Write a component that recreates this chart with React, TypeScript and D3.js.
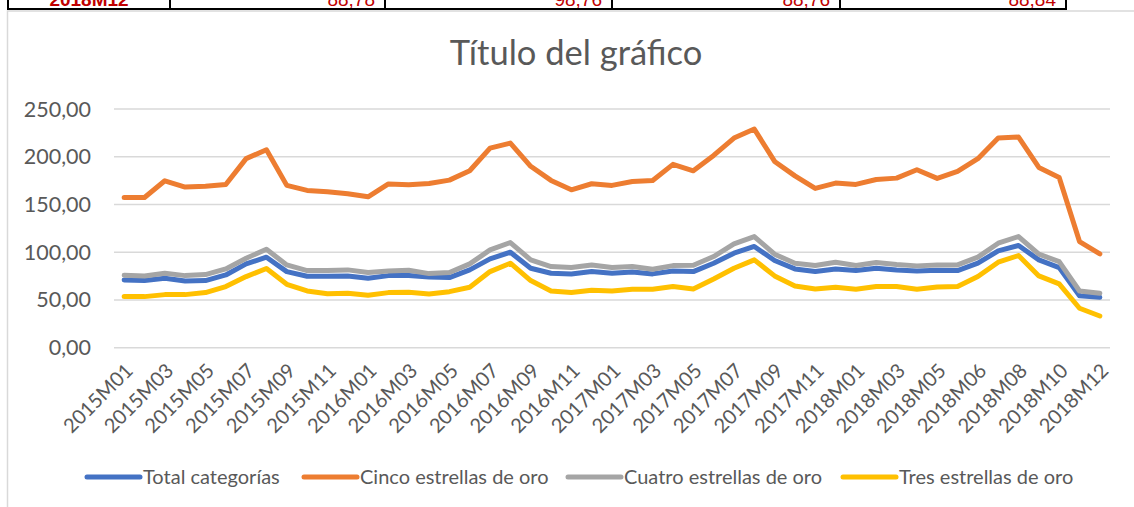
import React, { useEffect, useRef } from 'react';
import * as d3 from 'd3';

// Categories (one month appears twice in the source sheet, hence 49 entries)
const categories = [
  '2015M01', '2015M02', '2015M03', '2015M04', '2015M05', '2015M06', '2015M07', '2015M08', '2015M09', '2015M10', '2015M11', '2015M12',
  '2016M01', '2016M02', '2016M03', '2016M04', '2016M05', '2016M06', '2016M07', '2016M08', '2016M09', '2016M10', '2016M11', '2016M12',
  '2017M01', '2017M02', '2017M03', '2017M04', '2017M05', '2017M06', '2017M07', '2017M08', '2017M09', '2017M10', '2017M11', '2017M12',
  '2018M01', '2018M02', '2018M03', '2018M04', '2018M05', '2018M05', '2018M06', '2018M07', '2018M08', '2018M09', '2018M10', '2018M11', '2018M12',
];

const totalCategorias = [
  71, 70.3, 72.7, 69.9, 70.3, 76.2, 87.8, 94.8, 79.7, 74.8, 74.8, 75.2, 72.7, 75.5,
  75.5, 74.1, 73.4, 81.5, 93, 100, 83.2, 78, 77.3, 79.7, 78, 79.4, 77.3, 80.4, 79.7, 88.5, 99, 106,
  91.3, 82.5, 79.7, 82.5, 80.8, 83.2, 81.5, 80.4, 81.1, 80.8, 88.5, 101.4, 107, 92, 83.9, 54.5, 52.8,
];
const cincoEstrellas = [
  157.3, 157.3, 174.8, 168.2, 169.2, 171, 198, 207.3, 170, 164.7, 163.3, 161.2, 158, 171.5,
  170.6, 172, 175.5, 185.3, 209, 214.3, 190, 175.2, 165.4, 171.7, 170, 174.1, 175.2, 192, 185.3, 201.4, 219.6, 229,
  195.1, 180, 166.8, 172.4, 171, 176.2, 177.6, 186.4, 177.3, 184.6, 198, 219.6, 220.6, 188.8, 178.3, 111.2, 98.3,
];
const cuatroEstrellas = [
  75.9, 75.2, 78, 75.5, 76.6, 82.5, 93.7, 103.1, 86.7, 80.8, 80.8, 81.5, 78.7, 80.4,
  81.1, 77.6, 78.7, 87.8, 102.4, 110.1, 92, 85, 83.9, 86.7, 83.9, 85, 82.2, 86, 86.4, 95.5, 108.7, 116.4,
  97.9, 88.5, 86, 89.5, 86, 89.2, 87.1, 85.7, 86.7, 86.7, 94.8, 109.4, 116.4, 97.9, 90.2, 59.4, 57,
];
const tresEstrellas = [
  53.5, 53.5, 55.6, 55.6, 57.7, 64, 74.5, 82.9, 66.4, 59.4, 56.6, 57, 54.9, 57.7,
  58, 56.3, 58.7, 63.3, 79.7, 88.5, 70.3, 59.4, 57.7, 60.1, 59.4, 61.2, 61.2, 64, 61.5, 72, 83.2, 92,
  75.2, 64.7, 61.5, 63.3, 61.2, 64, 64, 61.2, 63.6, 64, 74.5, 89.5, 96.5, 75.2, 66.8, 41.3, 33.2,
];

const seriesNames = ['Total categorías', 'Cinco estrellas de oro', 'Cuatro estrellas de oro', 'Tres estrellas de oro'];
const seriesColors = ['#4472C4', '#ED7D31', '#A5A5A5', '#FFC000'];
const yTicks = [0, 50, 100, 150, 200, 250];

// clipped spreadsheet row above the chart
const tableRow = ['2018M12', '88,78', '98,76', '88,76', '88,84'];

export default function App() {
  const ref = useRef<SVGSVGElement>(null);

  useEffect(() => {
    const svg = d3.select(ref.current);
    svg.selectAll('*').remove();

    const W = 1134;
    const H = 507;
    const font = 'Lato, "Open Sans", sans-serif';

    svg.append('rect').attr('width', W).attr('height', H).attr('fill', '#fff');

    // spreadsheet row (only its bottom edge shows)
    const cellEdges = [8, 170, 385, 612, 840, 1066];
    const clip = svg.append('clipPath').attr('id', 'rowclip');
    clip.append('rect').attr('x', 0).attr('y', 0).attr('width', W).attr('height', 8.5);
    const row = svg.append('g').attr('clip-path', 'url(#rowclip)');
    tableRow.forEach((t, i) => {
      const txt = row.append('text')
        .attr('y', 6)
        .attr('fill', '#C00000')
        .style('font-family', 'Liberation Sans, Arial, sans-serif')
        .style('font-size', '19px')
        .text(t);
      if (i === 0) {
        txt.attr('x', (cellEdges[0] + cellEdges[1]) / 2).attr('text-anchor', 'middle').style('font-weight', 'bold');
      } else {
        txt.attr('x', cellEdges[i + 1] - 10).attr('text-anchor', 'end');
      }
    });
    svg.append('line').attr('x1', cellEdges[0]).attr('x2', cellEdges[5] + 1)
      .attr('y1', 9).attr('y2', 9).attr('stroke', '#000').attr('stroke-width', 2);
    cellEdges.forEach(x => {
      svg.append('line').attr('x1', x).attr('x2', x).attr('y1', 0).attr('y2', 10)
        .attr('stroke', '#000').attr('stroke-width', 2);
    });

    // chart area border
    svg.append('rect')
      .attr('x', 7.5).attr('y', 11)
      .attr('width', W + 20).attr('height', H + 20)
      .attr('fill', 'none').attr('stroke', '#d9d9d9').attr('stroke-width', 1.5);

    // title
    svg.append('text')
      .attr('x', 576).attr('y', 65)
      .attr('text-anchor', 'middle')
      .attr('fill', '#595959')
      .style('font-family', font)
      .style('font-size', '34.5px')
      .text('Título del gráfico');

    // scales
    const idx = categories.map((_, i) => i);
    const x = d3.scaleBand<number>().domain(idx).range([114, 1110]);
    const xc = (i: number) => (x(i) as number) + x.bandwidth() / 2;
    const y = d3.scaleLinear().domain([0, 250]).range([347.7, 109]);

    const fmt = (v: number) => d3.format('.2f')(v).replace('.', ',');

    // gridlines + y labels
    const yAxis = svg.append('g');
    yTicks.forEach(t => {
      yAxis.append('line')
        .attr('x1', 114).attr('x2', 1110)
        .attr('y1', y(t)).attr('y2', y(t))
        .attr('stroke', '#d9d9d9').attr('stroke-width', 1.5);
      yAxis.append('text')
        .attr('x', 91).attr('y', y(t))
        .attr('dy', '0.35em')
        .attr('text-anchor', 'end')
        .attr('fill', '#595959')
        .style('font-family', font)
        .style('font-size', '21.5px')
        .text(fmt(t));
    });

    // x labels (every second category)
    const xAxis = svg.append('g');
    idx.filter(i => i % 2 === 0).forEach(i => {
      xAxis.append('text')
        .attr('transform', `translate(${xc(i) + 5},${367}) rotate(-45)`)
        .attr('text-anchor', 'end')
        .attr('dy', '0.35em')
        .attr('fill', '#595959')
        .style('font-family', font)
        .style('font-size', '20px')
        .text(categories[i]);
    });

    // lines
    const allSeries = [totalCategorias, cincoEstrellas, cuatroEstrellas, tresEstrellas];
    const line = d3.line<number>()
      .x((_, i) => xc(i))
      .y(d => y(d));
    allSeries.forEach((s, k) => {
      svg.append('path')
        .datum(s)
        .attr('d', line)
        .attr('fill', 'none')
        .attr('stroke', seriesColors[k])
        .attr('stroke-width', 5)
        .attr('stroke-linejoin', 'round')
        .attr('stroke-linecap', 'round');
    });

    // legend
    const legendX = [85, 302, 566, 841];
    const legendY = 477;
    seriesNames.forEach((name, k) => {
      const g = svg.append('g').attr('transform', `translate(${legendX[k]},${legendY})`);
      g.append('line')
        .attr('x1', 2).attr('x2', 55)
        .attr('stroke', seriesColors[k])
        .attr('stroke-width', 5)
        .attr('stroke-linecap', 'round');
      g.append('text')
        .attr('x', 58).attr('dy', '0.35em')
        .attr('fill', '#595959')
        .style('font-family', font)
        .style('font-size', '20px')
        .text(name);
    });
  }, []);

  return (
    <svg
      ref={ref}
      width={1134}
      height={507}
      style={{ position: 'absolute', left: 0, top: 0, display: 'block' }}
    />
  );
}
